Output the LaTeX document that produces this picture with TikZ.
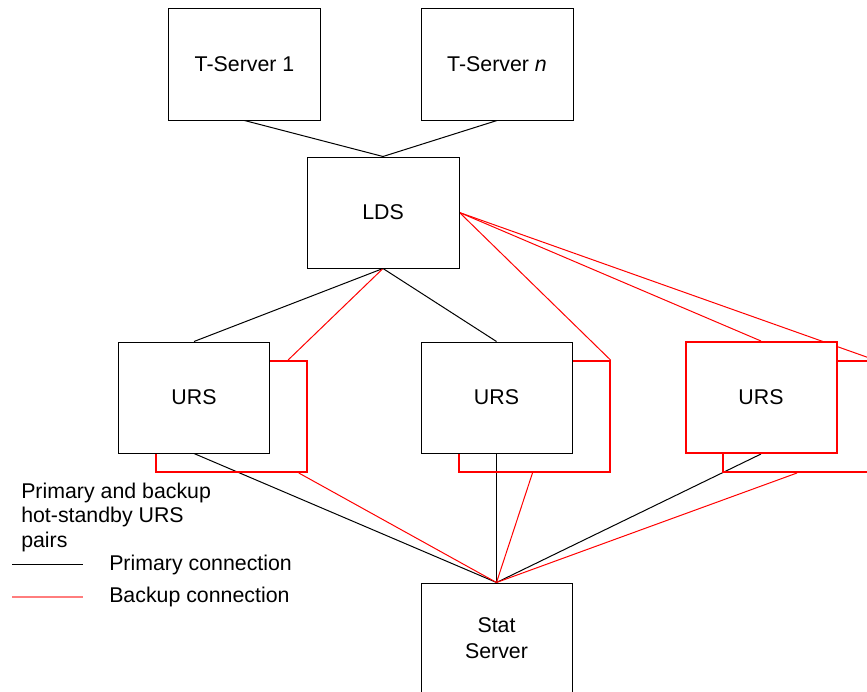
\documentclass[tikz,border=0pt]{standalone}
\usepackage{fontspec}
\setmainfont{Liberation Sans}
\usetikzlibrary{calc}
\pgfdeclarelayer{bg}
\pgfsetlayers{bg,main}
\definecolor{legred}{RGB}{255,125,125}
\begin{document}
\begin{tikzpicture}[x=0.75pt,y=-0.75pt,
  font=\fontsize{16pt}{19.5pt}\selectfont,
  box/.style={draw=black, line width=0.75pt, fill=white, inner sep=0pt,
    minimum width=113.25pt, minimum height=83.25pt, align=center},
  redbox/.style={box, draw=red, line width=1.5pt},
  backupbox/.style={draw=red, line width=1.5pt, inner sep=0pt,
    minimum width=113.25pt, minimum height=83.25pt},
  pline/.style={draw=black, line width=0.75pt},
  bline/.style={draw=red, line width=0.75pt},
  legtext/.style={anchor=base west, inner sep=0pt}]
\clip (0,0) rectangle (867,692);

% top servers and LDS
\node[box, minimum width=114pt] (ts1) at (244.5,64.5) {T-Server 1};
\node[box, minimum width=114pt] (tsn) at (497,64.5) {T-Server \textit{n}};
\node[box, minimum width=114pt] (lds) at (383,212.5) {LDS};

% backup URS boxes
\node[backupbox] (u1b) at (231.5,416.5) {};
\node[backupbox] (u2b) at (534,416.5) {};
\node[backupbox] (u3b) at (798.5,416.5) {};

% primary URS boxes
\node[box] (u1) at (194,397.5) {URS};
\node[box] (u2) at (496.5,397.5) {URS};
\node[redbox] (u3) at (761,397.5) {URS};

% Stat Server
\node[box] (ss) at (496.5,638.5) {Stat\\Server};

% legend
\node[legtext] (l1) at (21,498) {Primary and backup};
\node[legtext] (l2) at (21,522.5) {hot-standby URS};
\node[legtext] (l3) at (21,547) {pairs};
\coordinate (pa) at (12,564);
\coordinate (pb) at (83,564);
\coordinate (ba) at (12,597);
\coordinate (bb) at (83,597);
\node[legtext] (lp) at (109,570) {Primary connection};
\node[legtext] (lb) at (109,602.5) {Backup connection};
\draw[pline] (pa) -- (pb);
\draw[draw=legred, line width=1.5pt] (ba) -- (bb);

\begin{pgfonlayer}{bg}
\clip (0,0) rectangle (867,692);
% primary connections
\draw[pline] ($(ts1.south west)!0.5!(ts1.south east)$) -- (lds.north);
\draw[pline] (tsn.south) -- (lds.north);
\draw[pline] (lds.south) -- (u1.north);
\draw[pline] (lds.south) -- (u2.north);
\draw[pline] (u1.south) -- (ss.north);
\draw[pline] (u2.south) -- (ss.north);
\draw[pline] (u3.south) -- (ss.north);
% backup connections
\draw[bline] (lds.south) -- ($(u1b.north west)!0.87!(u1b.north east)$);
\draw[bline] (lds.east) -- (u2b.north east);
\draw[bline] (lds.east) -- (u3.north);
\draw[bline] (lds.east) -- (u3b.north east);
\draw[bline] ($(u1b.south west)!0.94!(u1b.south east)$) -- (ss.north);
\draw[bline] ($(u2b.south west)!0.49!(u2b.south east)$) -- (ss.north);
\draw[bline] ($(u3b.south west)!0.49!(u3b.south east)$) -- (ss.north);
\end{pgfonlayer}
\end{tikzpicture}
\end{document}
